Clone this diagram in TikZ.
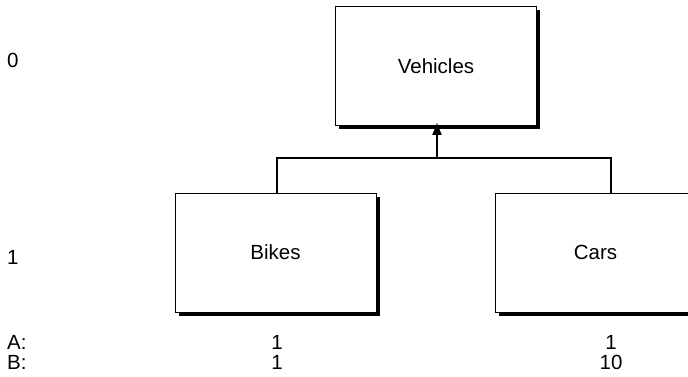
\documentclass[tikz,border=0pt]{standalone}
\usepackage{fontspec}
\setmainfont{Liberation Sans}
\usetikzlibrary{arrows.meta,shadows}
\begin{document}
\begin{tikzpicture}[x=1pt,y=-1pt,
  every node/.style={font=\fontsize{20.5}{24}\selectfont},
  cls/.style={draw=black,line width=0.9pt,fill=white,rectangle,minimum width=201pt,minimum height=119pt,inner sep=0pt,
    drop shadow={shadow xshift=3.5pt,shadow yshift=-3.5pt,fill=black,opacity=1}},
  conn/.style={draw=black,line width=1.8pt},
  lbl/.style={inner sep=0pt,anchor=west},
  num/.style={inner sep=0pt}]
\useasboundingbox (0,0) rectangle (688,377);
\clip (0,0) rectangle (688,377);
\node[cls] (vehicles) at (436,66) {Vehicles};
\node[cls] (bikes) at (275.5,252.5) {Bikes};
\node[cls] (cars) at (595.5,252.5) {Cars};
\coordinate (mid) at (437,158);
\draw[conn] ([xshift=1.5pt]bikes.north) |- (mid) -| ([xshift=15.5pt]cars.north);
\draw[conn,-{Triangle[length=12pt,width=9pt]}] (mid) -- ([yshift=3pt]vehicles.south -| mid);
\node[lbl] (l0) at (7,60) {0};
\node[lbl] (l1) at (7,257) {1};
\node[lbl] (la) at (7,342) {A:};
\node[lbl] (lb) at (7,362) {B:};
\node[num] (a1) at (277,342) {1};
\node[num] (a2) at (611,342) {1};
\node[num] (b1) at (277,362) {1};
\node[num] (b2) at (611,362) {10};
\end{tikzpicture}
\end{document}
